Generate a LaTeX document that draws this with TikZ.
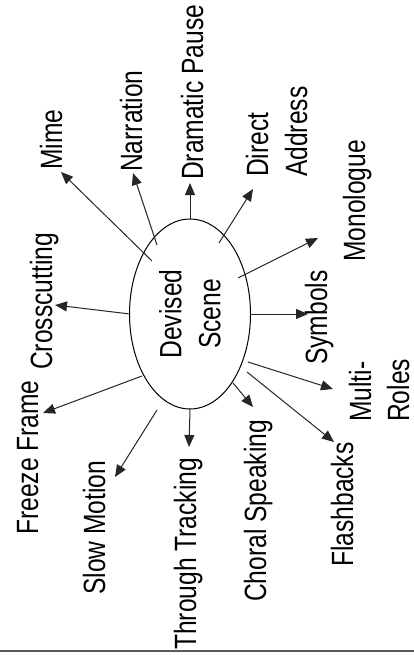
\documentclass[tikz,border=0pt]{standalone}
\usepackage{fontspec}
\setmainfont[FakeStretch=0.8]{Liberation Sans}
\usetikzlibrary{shapes.geometric,arrows.meta}
\begin{document}
\begin{tikzpicture}[x=1pt,y=-1pt,
  lbl/.style={rotate=90,anchor=base west,inner sep=0pt,font=\fontsize{30.75}{39}\selectfont,align=left},
  arr/.style={-{Triangle[length=12pt,width=10pt]},line width=1pt,draw=black!85}]
\useasboundingbox (0,0) rectangle (414,655);
\node[ellipse,draw,line width=1pt,rotate=90,minimum width=190pt,minimum height=121pt,inner sep=0pt,align=center,font=\fontsize{30.75}{39}\selectfont] (ds) at (190,314) {Devised\\Scene};
% labels
\node[lbl] (mime) at (62,170) {Mime};
\node[lbl] (narr) at (142,172) {Narration};
\node[lbl] (dram) at (203,180) {Dramatic Pause};
\node[lbl] (dire) at (307,177) {Direct\\Address};
\node[lbl] (mono) at (365,262) {Monologue};
\node[lbl] (symb) at (327,365) {Symbols};
\node[lbl,font=\fontsize{30.75}{38}\selectfont] (mult) at (409,422) {Multi-\\Roles};
\node[lbl] (flas) at (353,567) {Flashbacks};
\node[lbl] (chor) at (266,602) {Choral Speaking};
\node[lbl] (thro) at (196,650) {Through Tracking};
\node[lbl] (slow) at (105,595) {Slow Motion};
\node[lbl] (free) at (38,535) {Freeze Frame};
\node[lbl] (cros) at (52,370) {Crosscutting};
% arrow ends
\coordinate (mimeT) at (152,261); \coordinate (mimeH) at (61,172);
\coordinate (narrT) at (157,245); \coordinate (narrH) at (133,173);
\coordinate (dramT) at (190,219); \coordinate (dramH) at (190,183);
\coordinate (direT) at (219,243); \coordinate (direH) at (253,189);
\coordinate (monoT) at (238,278); \coordinate (monoH) at (318,238);
\coordinate (symbT) at (250,314); \coordinate (symbH) at (308,314);
\coordinate (multT) at (248,362); \coordinate (multH) at (333,389);
\coordinate (flasT) at (247,372); \coordinate (flasH) at (334,442);
\coordinate (chorT) at (233,383); \coordinate (chorH) at (253,407);
\coordinate (throT) at (190,409); \coordinate (throH) at (189,447);
\coordinate (slowT) at (157,410); \coordinate (slowH) at (115,477);
\coordinate (freeT) at (142,376); \coordinate (freeH) at (43,413);
\coordinate (crosT) at (130,314); \coordinate (crosH) at (55,305);
\foreach \n in {mime,narr,dram,dire,mono,symb,mult,flas,chor,thro,slow,free,cros}
  \draw[arr] (\n T) -- (\n H);
\coordinate (bl) at (0,651); \coordinate (br) at (414,651);
\draw[line width=2pt,draw=black!65] (bl) -- (br);
\end{tikzpicture}
\end{document}
